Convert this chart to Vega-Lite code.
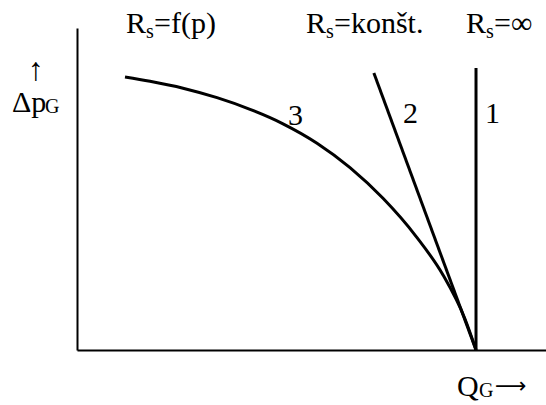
{
  "$schema": "https://vega.github.io/schema/vega-lite/v6.json",
  "width": 469,
  "height": 322,
  "autosize": {"type": "none"},
  "padding": {"left": 77, "top": 28, "right": 0, "bottom": 55},
  "background": "white",
  "config": {"view": {"stroke": null}, "text": {"font": "Liberation Serif", "color": "black"}},
  "datasets": {
    "curves": [
      {"series": "1", "Q": 1.0, "dp": 0.0, "ord": 0},
      {"series": "1", "Q": 1.0, "dp": 1.007, "ord": 1},
      {"series": "2", "Q": 0.744, "dp": 0.989, "ord": 0},
      {"series": "2", "Q": 1.0, "dp": 0.0, "ord": 1},
      {"series": "3", "Q": 0.1203, "dp": 0.975, "ord": 0},
      {"series": "3", "Q": 0.1830, "dp": 0.9596, "ord": 1},
      {"series": "3", "Q": 0.2657, "dp": 0.9350, "ord": 2},
      {"series": "3", "Q": 0.3509, "dp": 0.9011, "ord": 3},
      {"series": "3", "Q": 0.4336, "dp": 0.8596, "ord": 4},
      {"series": "3", "Q": 0.5163, "dp": 0.8079, "ord": 5},
      {"series": "3", "Q": 0.6015, "dp": 0.7386, "ord": 6},
      {"series": "3", "Q": 0.6842, "dp": 0.6514, "ord": 7},
      {"series": "3", "Q": 0.7669, "dp": 0.5418, "ord": 8},
      {"series": "3", "Q": 0.8496, "dp": 0.4061, "ord": 9},
      {"series": "3", "Q": 0.9173, "dp": 0.2679, "ord": 10},
      {"series": "3", "Q": 0.9724, "dp": 0.1107, "ord": 11},
      {"series": "3", "Q": 1.0, "dp": 0.0, "ord": 12}
    ],
    "mainText": [
      {"t": "R", "Q": 0.1228, "dp": 1.132},
      {"t": "=f(p)", "Q": 0.1930, "dp": 1.132},
      {"t": "R", "Q": 0.5739, "dp": 1.132},
      {"t": "=konšt.", "Q": 0.6441, "dp": 1.132},
      {"t": "R", "Q": 0.9749, "dp": 1.132},
      {"t": "=∞", "Q": 1.0451, "dp": 1.132},
      {"t": "3", "Q": 0.5288, "dp": 0.804},
      {"t": "2", "Q": 0.8170, "dp": 0.811},
      {"t": "1", "Q": 1.0226, "dp": 0.811},
      {"t": "Δp", "Q": -0.1629, "dp": 0.85},
      {"t": "Q", "Q": 0.9524, "dp": -0.164}
    ],
    "subText": [
      {"t": "s", "Q": 0.1729, "dp": 1.114},
      {"t": "s", "Q": 0.6241, "dp": 1.114},
      {"t": "s", "Q": 1.0251, "dp": 1.114},
      {"t": "G", "Q": -0.0802, "dp": 0.846},
      {"t": "G", "Q": 1.0075, "dp": -0.168}
    ],
    "arrows": [
      {"t": "↑", "Q": -0.1028, "dp": 0.964}
    ],
    "arrowsRight": [
      {"t": "⟶", "Q": 1.0476, "dp": -0.154}
    ]
  },
  "layer": [
    {
      "data": {"name": "curves"},
      "mark": {"type": "line", "color": "black", "strokeWidth": 3, "interpolate": "monotone"},
      "encoding": {
        "x": {"field": "Q", "type": "quantitative", "scale": {"domain": [0, 1.1754], "nice": false, "zero": false},
              "axis": {"domain": true, "domainColor": "black", "domainWidth": 2, "ticks": false, "labels": false, "grid": false, "title": null}},
        "y": {"field": "dp", "type": "quantitative", "scale": {"domain": [0, 1.15], "nice": false, "zero": false},
              "axis": {"domain": true, "domainColor": "black", "domainWidth": 2, "ticks": false, "labels": false, "grid": false, "title": null}},
        "detail": {"field": "series"},
        "order": {"field": "ord"}
      }
    },
    {
      "data": {"name": "mainText"},
      "mark": {"type": "text", "fontSize": 30, "align": "left", "baseline": "alphabetic"},
      "encoding": {
        "x": {"field": "Q", "type": "quantitative"},
        "y": {"field": "dp", "type": "quantitative"},
        "text": {"field": "t"}
      }
    },
    {
      "data": {"name": "subText"},
      "mark": {"type": "text", "fontSize": 20, "align": "left", "baseline": "alphabetic"},
      "encoding": {
        "x": {"field": "Q", "type": "quantitative"},
        "y": {"field": "dp", "type": "quantitative"},
        "text": {"field": "t"}
      }
    },
    {
      "data": {"name": "arrows"},
      "mark": {"type": "text", "fontSize": 32, "align": "center", "baseline": "alphabetic"},
      "encoding": {
        "x": {"field": "Q", "type": "quantitative"},
        "y": {"field": "dp", "type": "quantitative"},
        "text": {"field": "t"}
      }
    },
    {
      "data": {"name": "arrowsRight"},
      "mark": {"type": "text", "font": "DejaVu Sans", "fontSize": 22, "align": "left", "baseline": "alphabetic"},
      "encoding": {
        "x": {"field": "Q", "type": "quantitative"},
        "y": {"field": "dp", "type": "quantitative"},
        "text": {"field": "t"}
      }
    }
  ]
}
